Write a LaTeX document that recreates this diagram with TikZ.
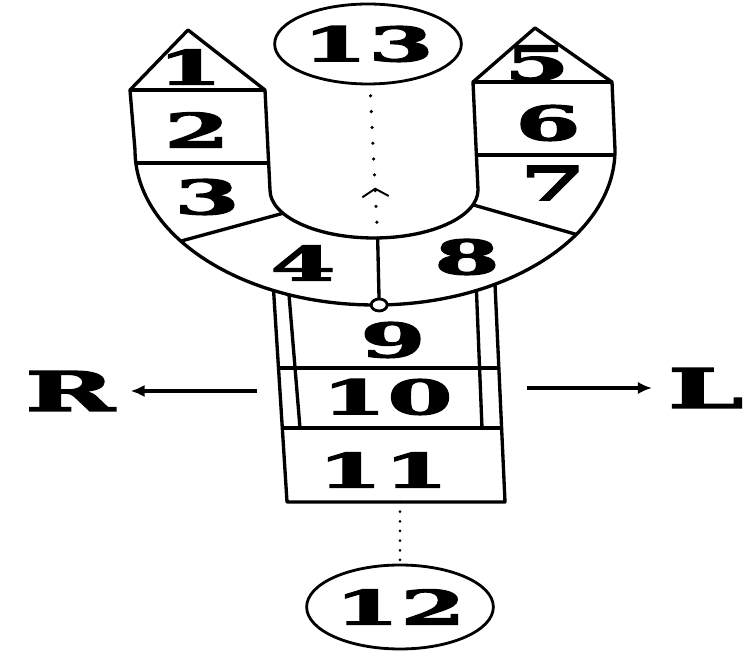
\documentclass[tikz,border=0pt]{standalone}
\usepackage{fontspec}
\usepackage{tikz}
\usetikzlibrary{arrows.meta,calc,shapes.geometric,decorations.markings}
\newfontfamily\numfont[FakeStretch=2.0,FakeBold=2.5]{DejaVu Serif}

\begin{document}
\begin{tikzpicture}[x=0.02cm,y=0.02cm,
  outl/.style={line width=1.9pt,line join=round},
  num/.style={font=\numfont\bfseries\fontsize{27}{30}\selectfont,inner sep=0pt},
  side/.style={font=\numfont\bfseries\fontsize{31}{34}\selectfont,inner sep=0pt,inner xsep=0.3cm},
  oval/.style={ellipse,draw,line width=1.6pt,inner sep=0pt,font=\numfont\bfseries\fontsize{27}{30}\selectfont},
  dots/.style={line width=2pt,line cap=round,dash pattern=on 0pt off 9pt},
  finedots/.style={line width=1.7pt,line cap=round,dash pattern=on 0pt off 5.5pt},
  chev/.style={postaction={decorate},decoration={markings,mark=at position 0.33 with {\arrow[line width=1.1pt]{Straight Barb[length=4.5pt,width=15pt]}}}},
  arr/.style={-{Latex[length=8pt,width=7pt]},line width=2.4pt}]
\useasboundingbox (0,0) rectangle (754,652);
\coordinate (oc) at (375,502);
\coordinate (ic) at (374,462);
% the U
\draw[outl] (265,562) -- (188,622) -- (130,562) -- (135,502)
  arc[start angle=180,end angle=360,x radius=240,y radius=155]
  -- (612,570) -- (535,624) -- (473,570) -- (478,462)
  arc[start angle=0,end angle=-180,x radius=104,y radius=48] -- cycle;
\draw[outl] (130,562) -- (265,562) (136,489) -- (267,489);
\draw[outl] (473,570) -- (612,570) (477,497) -- (614,497);
\draw[outl] ($(oc)+(216:240 and 155)$) -- ($(ic)+(209:104 and 48)$);
\draw[outl] ($(oc)+(327:240 and 155)$) -- ($(ic)+(342:104 and 48)$);
\coordinate (ib) at ($(ic)+(272:104 and 48)$);
\coordinate (ob) at ($(oc)+(271:240 and 155)$);
\draw[outl] (ib) -- (ob);
% the stem
\draw[outl] ($(oc)+(245:240 and 155)$) -- (287,150) -- (505,150) -- ($(oc)+(300:240 and 155)$);
\draw[outl] ($(oc)+(249:240 and 155)$) -- (300,224);
\draw[outl] ($(oc)+(295:240 and 155)$) -- (482,224);
\draw[outl] (278.5,284) -- (498.8,284) (282.3,224) -- (501.6,224);
\draw[line width=1.6pt,fill=white] (ob) ellipse[x radius=8,y radius=6];
% numbers
\node[num] (n1) at (190,585) {1};
\node[num] (n2) at (197,522) {2};
\node[num] (n3) at (207,455) {3};
\node[num] (n4) at (303,389) {4};
\node[num] (n5) at (537,589) {5};
\node[num] (n6) at (548,529) {6};
\node[num] (n7) at (553,469) {7};
\node[num] (n8) at (467,395) {8};
\node[num] (n9) at (393,312) {9};
\node[num] (n10) at (387,255) {10};
\node[num] (n11) at (383,182) {11};
\node[oval,minimum width=3.68cm,minimum height=1.6cm] (n13) at (368,608) {13};
\node[oval,minimum width=3.48cm,minimum height=1.68cm] (n12) at (400,45) {12};
\node[side] (R) at (70,261) {R};
\node[side,anchor=west] (L) at (652,264) {L};
% connectors
\coordinate (b11) at (400,150);
\coordinate (rs) at (257,261);
\coordinate (ls) at (527,264);
\draw[dots,chev] (ib) -- (n13);
\draw[finedots] (b11) -- (n12);
\draw[arr] (rs) -- (R);
\draw[arr] (ls) -- (L);
\end{tikzpicture}
\end{document}
